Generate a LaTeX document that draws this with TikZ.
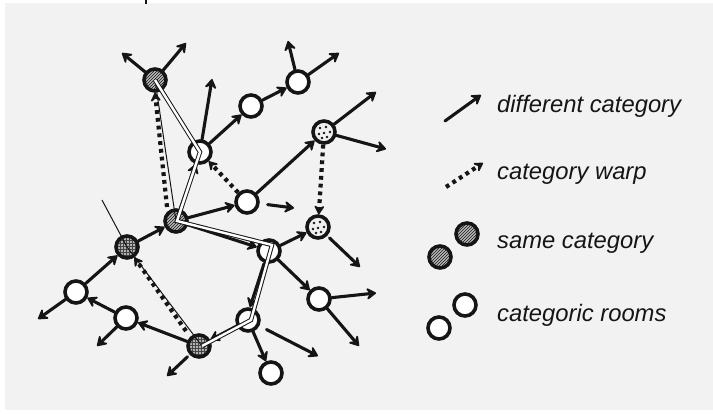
\documentclass[tikz,border=0pt]{standalone}
\usepackage{fontspec}
\newfontfamily\legendfont{Liberation Sans}
\usetikzlibrary{arrows.meta,patterns,calc}
\definecolor{paper}{HTML}{F2F2F2}
\definecolor{ink}{HTML}{151515}
\begin{document}
\begin{tikzpicture}[x=1pt,y=-1pt,
  room/.style={circle, draw=ink, line width=3.6pt, minimum size=22pt, inner sep=0pt, fill=white},
  hatched/.style={room, fill=none, preaction={fill=gray!55}, preaction={pattern=north east lines, pattern color=ink}},
  crossed/.style={room, fill=none, preaction={fill=gray!60}, preaction={pattern=grid, pattern color=ink!80}},
  dotted room/.style={room, fill=gray!12},
  arr/.style={draw=ink, line width=3.1pt, line cap=round, -{Stealth[length=12pt,width=15pt,inset=5pt,round]}},
  warp/.style={draw=ink, line width=4.2pt, dash pattern=on 3.8pt off 4pt, -{Stealth[length=11pt,width=13pt,inset=4.5pt,round]}},
  trail/.style={draw=ink, line width=1pt},
  dtrail/.style={draw=ink, line width=1pt, double=white, double distance=2.4pt},
  legend/.style={font=\legendfont\itshape\fontsize{23.8}{28}\selectfont, text=ink, inner sep=0pt, anchor=base west}
]
% paper and margins
\useasboundingbox (0,0) rectangle (713,414);
\fill[white] (0,0) rectangle (713,414);
\fill[paper] (5,3) rectangle (713,410);
\draw[ink, line width=1.6pt] (146,0) -- (146,4);

% rooms
\node[hatched]     (A) at (155,80)  {};
\node[room]        (B) at (200,152) {};
\node[room]        (C) at (251,106) {};
\node[room]        (D) at (298,82)  {};
\node[dotted room] (E) at (324,132) {};
\node[room]        (F) at (247,202) {};
\node[dotted room] (G) at (318,227) {};
\node[hatched]     (H) at (176,221) {};
\node[crossed]     (I) at (127,247) {};
\node[room]        (J) at (269,251) {};
\node[room]        (K) at (76,292)  {};
\node[room]        (L) at (126,318) {};
\node[crossed]     (M) at (199,346) {};
\node[room]        (N) at (248,320) {};
\node[room]        (O) at (271,373) {};
\node[room]        (P) at (319,299) {};

% speckles in the dotted rooms
\foreach \n in {E,G}
  \foreach \dx/\dy in {-4/-4, 2/-5, 6/0, -5/2, 0/1, 3/5, -2/6}
    \fill[ink] ($(\n)+(\dx,\dy)$) circle (1.3);

% free arrow ends
\coordinate (a1) at (122,53);
\coordinate (a2) at (186,43);
\coordinate (b1) at (212,79);
\coordinate (d1) at (288,41);
\coordinate (d2) at (339,53);
\coordinate (e1) at (376,92);
\coordinate (e2) at (386,149);
\coordinate (f1) at (294,208);
\coordinate (g1) at (360,267);
\coordinate (p1) at (376,293);
\coordinate (p2) at (359,346);
\coordinate (n1) at (318,356);
\coordinate (k1) at (38,319);
\coordinate (l1) at (97,346);
\coordinate (m1) at (167,376);

% passages between rooms
\draw[arr] (B) -- (C);
\draw[arr] (C) -- (D);
\draw[arr] (F) -- (E);
\draw[arr] (H) -- (F);
\draw[arr] (H) -- (J);
\draw[arr] (H) -- (B);
\draw[arr] (I) -- (H);
\draw[arr] (K) -- (I);
\draw[arr] (L) -- (K);
\draw[arr] (M) -- (L);
\draw[arr] (N) -- (M);
\draw[arr] ([xshift=-5pt]J.south) -- ([xshift=2pt]N.north);
\draw[arr] (J) -- (G);
\draw[arr] (J) -- (P);
\draw[arr] (N) -- (O);

% passages leading out
\draw[arr] (A) -- (a1);
\draw[arr] (A) -- (a2);
\draw[arr] (B) -- (b1);
\draw[arr] (D) -- (d1);
\draw[arr] (D) -- (d2);
\draw[arr] (E) -- (e1);
\draw[arr] (E) -- (e2);
\draw[arr, shorten <=8pt] (F) -- (f1);
\draw[arr, shorten <=3pt] (G) -- (g1);
\draw[arr] (P) -- (p1);
\draw[arr] (P) -- (p2);
\draw[arr, shorten <=8pt] (N) -- (n1);
\draw[arr] (K) -- (k1);
\draw[arr] (L) -- (l1);
\draw[arr, shorten <=3pt] (M) -- (m1);

% category warps
\draw[warp] ([shift={(-9,-14)}]H.center) -- ([xshift=0pt]A.south);
\draw[warp] (F) -- (B);
\draw[warp] (E) -- (G);
\draw[warp] ([shift={(-13,-15)}]M.center) -- (I);

% walked route
\coordinate (s0) at (102,200);
\draw[trail] (s0) -- (I.center) -- ([xshift=3pt]M.center);
\draw[trail] (H.center) -- (A.center);
\draw[dtrail] (A.center) -- (B.center) -- ([xshift=1pt]H.center)
  -- ([shift={(3,-6)}]J.center) -- ([xshift=3pt]N.center) -- ([xshift=3pt]M.center);

% legend
\coordinate (ls1) at (445,121);
\coordinate (le1) at (481,95);
\draw[arr] (ls1) -- (le1);
\coordinate (ls2) at (446,187);
\coordinate (le2) at (483,163);
\draw[warp] (ls2) -- (le2);
\node[hatched] (lg1) at (467,234) {};
\node[hatched] (lg2) at (440,257) {};
\node[room]    (lg3) at (465,305) {};
\node[room]    (lg4) at (439,328) {};
\node[legend] (t1) at (497,113) {different category};
\node[legend] (t2) at (497,180) {category warp};
\node[legend] (t3) at (497,249) {same category};
\node[legend] (t4) at (497,322) {categoric rooms};
\end{tikzpicture}
\end{document}
